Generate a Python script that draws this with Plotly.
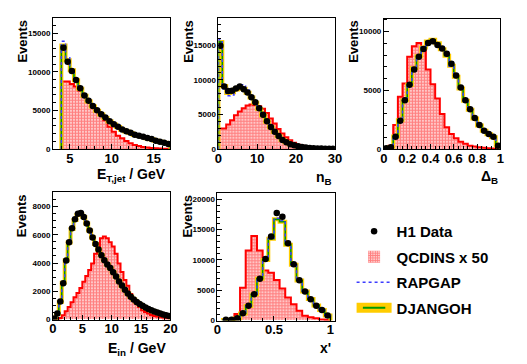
import numpy as np
import plotly.graph_objects as go

# ---------------- data ----------------
# Panel 1: E_T,jet / GeV, bins of 0.5 GeV from 4 to 17
et_edges = np.arange(4.0, 17.0 + 1e-9, 0.5)
et_data = [13100, 11300, 10100, 8930, 7860, 6920, 6230, 5550, 5000, 4480, 4060, 3590, 3200,
           2860, 2520, 2300, 2090, 1840, 1710, 1580, 1410, 1280, 1070, 940, 810, 640]
et_qcdins = [8750, 8750, 8400, 8100, 7560, 6900, 6280, 5640, 4870, 4350, 3710, 2860, 2220,
             1710, 1370, 1020, 730, 510, 380, 260, 170, 110, 75, 50, 30, 20]
et_djangoh = [13400, 11500, 10200, 8900, 7800, 6900, 6150, 5500, 4950, 4450, 4000, 3550, 3170,
              2830, 2490, 2270, 2060, 1820, 1690, 1560, 1390, 1260, 1060, 930, 800, 630]
et_rapgap = [13950, 11800, 10350, 9050, 7900, 6950, 6200, 5530, 4980, 4470, 4040, 3580, 3190,
             2850, 2510, 2290, 2080, 1830, 1700, 1570, 1400, 1270, 1065, 935, 805, 635]

# Panel 2: n_B, bins of 1 from 0 to 30
nb_edges = np.arange(0.0, 30.0 + 1e-9, 1.0)
nb_data = [14950, 9040, 8380, 8430, 8760, 9040, 8660, 8190, 7470, 6760, 5900, 4950, 4000, 3190,
           2480, 1860, 1290, 950, 670, 520, 380, 290, 190, 140, 95, 70, 45, 30, 20, 12]
nb_qcdins = [2950, 2950, 3520, 4140, 4860, 5430, 5900, 6280, 6430, 6380, 6190, 5810, 5190, 4400,
             3700, 2900, 2250, 1700, 1250, 900, 620, 450, 300, 200, 130, 90, 60, 40, 20, 10]
nb_djangoh = [15500, 9100, 8100, 8200, 8600, 8900, 8700, 8150, 7450, 6700, 5800, 4850, 3950, 3150,
              2450, 1850, 1300, 950, 680, 520, 380, 290, 200, 140, 95, 70, 45, 30, 20, 10]
nb_rapgap = [15800, 8700, 7700, 7800, 8500, 9200, 9300, 8500, 7650, 6850, 5850, 4900, 3950, 3150,
             2450, 1850, 1300, 950, 680, 520, 380, 290, 200, 140, 95, 70, 45, 30, 20, 10]

# Panel 3: Delta_B, bins of 0.04 from 0 to 1
db_edges = np.arange(0.0, 1.0 + 1e-9, 0.04)
db_data = [50, 140, 1045, 2400, 4150, 5480, 6780, 7850, 8530, 9040, 9180, 8870, 8560, 8110,
           7260, 6270, 5230, 4150, 3390, 2630, 2030, 1550, 1270, 1045, 280]
db_qcdins = [60, 280, 2030, 4440, 5570, 7850, 8760, 9040, 8480, 6780, 5510, 4300, 2970, 1840,
             1270, 900, 620, 450, 280, 200, 140, 100, 60, 40, 20]
db_djangoh = [40, 150, 1050, 2450, 4150, 5450, 6900, 7900, 8650, 9150, 9300, 9000, 8500, 7950,
              7100, 6150, 5150, 4100, 3350, 2600, 2000, 1550, 1250, 1000, 320]
db_rapgap = [40, 150, 1000, 2400, 4100, 5450, 6950, 7950, 8700, 9100, 9250, 8950, 8450, 7900,
             7050, 6100, 5100, 4080, 3330, 2580, 1990, 1540, 1240, 990, 310]

# Panel 4: E_in / GeV, bins of 0.5 GeV from 0 to 20
ein_edges = np.arange(0.0, 20.0 + 1e-9, 0.5)
ein_data = [70, 420, 1275, 2570, 4170, 5470, 6450, 7100, 7490, 7540, 7260, 6790, 6300, 5800,
            5350, 4950, 4550, 4200, 3900, 3650, 3350, 3050, 2700, 2400, 2100, 1850, 1620, 1420,
            1250, 1100, 970, 850, 750, 650, 570, 490, 420, 360, 300, 250]
ein_qcdins = [0, 40, 115, 300, 580, 880, 1230, 1580, 1880, 2230, 2670, 3080, 3500, 3970, 4660,
              5170, 5750, 5870, 5750, 5470, 5170, 4660, 3970, 3360, 2800, 2390, 1810, 1410, 1110,
              880, 650, 530, 420, 320, 250, 210, 160, 140, 115, 90]
ein_djangoh = [60, 400, 1250, 2600, 4200, 5450, 6400, 7050, 7400, 7450, 7250, 6800, 6300, 5800,
               5350, 4950, 4550, 4200, 3900, 3620, 3330, 3030, 2690, 2390, 2090, 1840, 1610, 1410,
               1240, 1090, 960, 840, 740, 645, 565, 485, 415, 355, 295, 245]
ein_rapgap = [60, 410, 1260, 2620, 4220, 5480, 6420, 7080, 7420, 7480, 7270, 6820, 6320, 5820,
              5370, 4970, 4570, 4220, 3920, 3640, 3340, 3040, 2700, 2400, 2100, 1850, 1620, 1420,
              1250, 1100, 970, 850, 750, 650, 570, 490, 420, 360, 300, 250]

# Panel 5: x', bins of 0.05 from 0.05 to 1
xp_edges = np.arange(0.05, 1.0 + 1e-9, 0.05)
xp_data = [110, 110, 380, 1200, 2450, 4350, 6900, 10160, 13860, 17770, 17120, 12770, 9290,
           6630, 4780, 3530, 2450, 1740, 820]
xp_qcdins = [0, 100, 1090, 5430, 11580, 13970, 11580, 8260, 7900, 6700, 5300, 3800, 2700, 1600,
             800, 550, 380, 170, 100]
xp_djangoh = [100, 110, 350, 1150, 2400, 4300, 6900, 10000, 13500, 16700, 16300, 12500, 9200,
              6600, 4800, 3550, 2500, 1750, 850]
xp_rapgap = [100, 110, 360, 1170, 2420, 4320, 6950, 10050, 13600, 16900, 16500, 12600, 9250,
             6650, 4820, 3560, 2500, 1760, 860]

x_titles = ["E<sub>T,jet</sub> / GeV", "n<sub>B</sub>", "\u0394<sub>B</sub>",
            "E<sub>in</sub> / GeV", "x'"]
y_title = "Events"
legend_names = ["H1 Data", "QCDINS x 50", "RAPGAP", "DJANGOH"]

# ---------------- styling ----------------
W, H = 527, 364
FONT = "Liberation Sans"
RED = "#ff0000"
YELLOW = "#ffcc00"
GREEN = "#009a00"
BLUE = "#3c3cff"

# frame boxes in pixels (left, right, top, bottom)
boxes = [(50, 170, 18, 151), (219, 338, 18, 151), (388, 507, 19, 151),
         (50, 170, 195, 324), (218, 338, 196, 325)]
xranges = [[3, 17], [0, 30], [0, 1], [0, 20], [0, 1.04]]
yranges = [[0, 17000], [0, 19000], [0, 11100], [0, 9000], [0, 21000]]
xdticks = [(5, 1), (10, 2), (0.2, 0.04), (5, 1), (0.5, 0.1)]
ydticks = [(5000, 1000), (5000, 1000), (5000, 1000), (2000, 500), (5000, 1000)]

panels = [
    (et_edges, et_data, et_qcdins, et_djangoh, et_rapgap),
    (nb_edges, nb_data, nb_qcdins, nb_djangoh, nb_rapgap),
    (db_edges, db_data, db_qcdins, db_djangoh, db_rapgap),
    (ein_edges, ein_data, ein_qcdins, ein_djangoh, ein_rapgap),
    (xp_edges, xp_data, xp_qcdins, xp_djangoh, xp_rapgap),
]


def step_xy(edges, vals):
    xs = [edges[0]]
    ys = [0]
    for i, v in enumerate(vals):
        xs.append(edges[i])
        ys.append(v)
    xs += [edges[-1], edges[-1]]
    ys += [vals[-1], 0]
    return xs, ys


fig = go.Figure()

for k, (edges, data, qcd, dj, rg) in enumerate(panels):
    xa = "x" if k == 0 else f"x{k + 1}"
    ya = "y" if k == 0 else f"y{k + 1}"
    edges = np.asarray(edges)
    centers = (edges[:-1] + edges[1:]) / 2
    widths = edges[1:] - edges[:-1]
    first = k == 0

    # hatched QCDINS fill
    fig.add_trace(go.Bar(
        x=centers, y=qcd, width=widths, xaxis=xa, yaxis=ya,
        marker=dict(color="white", line=dict(width=0),
                    pattern=dict(shape="+", fgcolor=RED, bgcolor="white",
                                 size=3, solidity=0.75)),
        name=legend_names[1], legendgroup="q", legendrank=2,
        showlegend=first, hoverinfo="skip"))
    sx, sy = step_xy(edges, qcd)
    fig.add_trace(go.Scatter(x=sx, y=sy, xaxis=xa, yaxis=ya, mode="lines",
                             line=dict(color=RED, width=2, shape="hv"),
                             legendgroup="q", showlegend=False, hoverinfo="skip"))

    # DJANGOH: yellow band + green line
    sx, sy = step_xy(edges, dj)
    fig.add_trace(go.Scatter(x=sx, y=sy, xaxis=xa, yaxis=ya, mode="lines",
                             line=dict(color=YELLOW, width=4, shape="hv"),
                             legendgroup="dj", showlegend=False, hoverinfo="skip"))
    fig.add_trace(go.Scatter(x=sx, y=sy, xaxis=xa, yaxis=ya, mode="lines",
                             line=dict(color=GREEN, width=1.6, shape="hv"),
                             legendgroup="dj", showlegend=False, hoverinfo="skip"))

    # RAPGAP dotted
    sx, sy = step_xy(edges, rg)
    fig.add_trace(go.Scatter(x=sx, y=sy, xaxis=xa, yaxis=ya, mode="lines",
                             line=dict(color=BLUE, width=1.5, shape="hv", dash="dot"),
                             name=legend_names[2], legendgroup="r", legendrank=3,
                             showlegend=first, hoverinfo="skip"))

    # H1 data
    fig.add_trace(go.Scatter(x=centers, y=data, xaxis=xa, yaxis=ya, mode="markers",
                             marker=dict(color="black", size=6.5),
                             name=legend_names[0], legendgroup="d", legendrank=1,
                             showlegend=first))

# legend entry for DJANGOH (yellow band with green line)
fig.add_trace(go.Scatter(x=[None], y=[None], mode="lines+markers",
                         line=dict(color=YELLOW, width=10),
                         marker=dict(symbol="line-ew", size=16, color=GREEN,
                                     line=dict(color=GREEN, width=2)),
                         name=legend_names[3], legendgroup="dj", legendrank=4,
                         showlegend=True))

layout = dict(
    width=W, height=H, margin=dict(l=0, r=0, t=0, b=0),
    paper_bgcolor="white", plot_bgcolor="white",
    bargap=0, barmode="overlay",
    font=dict(family=FONT, color="black"),
    legend=dict(x=355 / W, y=1 - 218 / H, xanchor="left", yanchor="top",
                bgcolor="rgba(0,0,0,0)", borderwidth=0, itemwidth=35,
                traceorder="grouped", tracegroupgap=3,
                font=dict(family=FONT, size=15, weight="bold", color="black")),
    annotations=[],
)

for k in range(5):
    l, r, t, b = boxes[k]
    xk = "xaxis" if k == 0 else f"xaxis{k + 1}"
    yk = "yaxis" if k == 0 else f"yaxis{k + 1}"
    xa = "x" if k == 0 else f"x{k + 1}"
    ya = "y" if k == 0 else f"y{k + 1}"
    common = dict(showline=True, mirror=True, linecolor="black", linewidth=1,
                  ticks="inside", tickcolor="black", ticklen=5, tickwidth=1,
                  showgrid=False, zeroline=False, fixedrange=True)
    layout[xk] = dict(domain=[l / W, r / W], anchor=ya, range=xranges[k],
                      dtick=xdticks[k][0], tick0=0, ticklabelstandoff=-3,
                      minor=dict(ticks="inside", ticklen=3, dtick=xdticks[k][1],
                                 tick0=0, tickcolor="black"),
                      tickfont=dict(family=FONT, size=13, weight="bold"), **common)
    layout[yk] = dict(domain=[1 - b / H, 1 - t / H], anchor=xa, range=yranges[k],
                      dtick=ydticks[k][0], tick0=0, tickformat="d",
                      minor=dict(ticks="inside", ticklen=3, dtick=ydticks[k][1],
                                 tick0=0, tickcolor="black"),
                      tickfont=dict(family=FONT, size=8, weight="bold"), **common)

# "Events" axis titles
ev_pos = [(18.7, 18), (188.5, 18), (357, 18), (18.7, 195), (187.7, 195)]
for (px, py) in ev_pos:
    layout["annotations"].append(dict(
        text=y_title, xref="paper", yref="paper", x=px / W, y=1 - py / H,
        xanchor="center", yanchor="top", textangle=-90, showarrow=False,
        font=dict(family=FONT, size=13, weight="bold", color="black")))

# x-axis titles (right aligned)
xt_pos = [(167.5, 177), (337.5, 180), (507, 179), (167, 354), (336, 353)]
for txt, (px, py) in zip(x_titles, xt_pos):
    layout["annotations"].append(dict(
        text=txt, xref="paper", yref="paper", x=px / W, y=1 - py / H,
        xanchor="right", yanchor="middle", showarrow=False,
        font=dict(family=FONT, size=14, weight="bold", color="black")))

fig.update_layout(**layout)
fig.write_html("out.html", config={"displayModeBar": False},
               post_script="document.body.style.margin='0';"
                           "document.body.style.overflow='hidden';")
